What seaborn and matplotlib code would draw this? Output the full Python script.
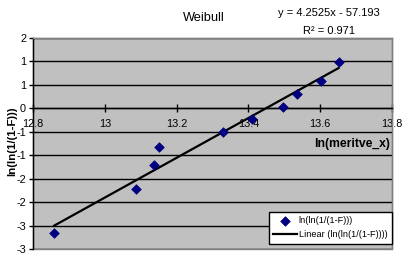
import matplotlib
matplotlib.use("Agg")
import matplotlib.pyplot as plt
import seaborn as sns
import numpy as np
import pandas as pd

# ---- data ----
ln_meritve_x = [12.859, 13.087, 13.137, 13.152, 13.329, 13.409, 13.495, 13.534, 13.601, 13.651]
lnln_F = [-2.66, -1.72, -1.20, -0.82, -0.51, -0.23, 0.03, 0.30, 0.59, 0.99]

y_ticks = [-3.0, -2.5, -2.0, -1.5, -1.0, -0.5, 0.0, 0.5, 1.0, 1.5]
y_tick_labels = ["-3", "-3", "-2", "-2", "-1", "-1", "0", "1", "1", "2"]
x_ticks = [12.8, 13.0, 13.2, 13.4, 13.6, 13.8]
x_tick_labels = ["12.8", "13", "13.2", "13.4", "13.6", "13.8"]

title = "Weibull"
eq_text = "y = 4.2525x - 57.193"
r2_text = "R² = 0.971"
x_label = "ln(meritve_x)"
y_label = "ln(ln(1/(1-F)))"
series_label = "ln(ln(1/(1-F)))"
trend_label = "Linear (ln(ln(1/(1-F))))"

df = pd.DataFrame({"x": ln_meritve_x, "y": lnln_F})

plt.rcParams["font.family"] = ["Liberation Sans", "DejaVu Sans"]

W, H = 406, 257
fig = plt.figure(figsize=(W / 100, H / 100), dpi=100)
fig.patch.set_facecolor("white")
ax = fig.add_axes([33 / W, 8 / H, 359 / W, 211 / H])
ax.set_facecolor("#C0C0C0")

ax.set_axisbelow(True)
ax.set_yticks(y_ticks)
ax.set_yticklabels(y_tick_labels)
ax.set_xticks(x_ticks)
ax.set_xticklabels(x_tick_labels)
ax.yaxis.grid(True, color="black", lw=1)
ax.xaxis.grid(False)

sns.regplot(data=df, x="x", y="y", scatter=False, ci=None, truncate=True,
            color="black", line_kws=dict(lw=1.6), label=trend_label, ax=ax)
sns.scatterplot(data=df, x="x", y="y", marker="D", color="#000080",
                edgecolor="#000080", s=24, linewidth=0.5, label=series_label,
                ax=ax, zorder=3)

ax.set_xlim(12.8, 13.8)
ax.set_ylim(-3.0, 1.5)

# spines
ax.spines["bottom"].set_position(("data", 0))
ax.spines["bottom"].set_color("black")
ax.spines["bottom"].set_linewidth(1)
ax.spines["left"].set_color("black")
ax.spines["left"].set_linewidth(1)
for s in ("top", "right"):
    ax.spines[s].set_color("#808080")
    ax.spines[s].set_linewidth(1)
ax.patch.set_edgecolor("#808080")
ax.patch.set_linewidth(1)

ax.tick_params(axis="y", direction="out", length=3, width=1, color="black",
               labelsize=7.8, pad=2)
ax.tick_params(axis="x", direction="inout", length=6, width=1, color="black",
               labelsize=7.8, pad=5)

ax.set_xlabel(x_label, fontsize=8.7, fontweight="bold")
ax.xaxis.set_label_coords(0.889, 0.525)
ax.set_ylabel(y_label, fontsize=8.2, fontweight="bold")
ax.yaxis.set_label_coords(-0.043, 0.51)

fig.text(204 / W, 1 - 18 / H, title, ha="center", va="center", fontsize=9.2)
fig.text(329 / W, 1 - 13 / H, eq_text, ha="center", va="center", fontsize=8)
fig.text(329 / W, 1 - 31 / H, r2_text, ha="center", va="center", fontsize=8)

handles, labels = ax.get_legend_handles_labels()
order = [labels.index(series_label), labels.index(trend_label)]
leg = ax.legend([handles[i] for i in order], [labels[i] for i in order],
                loc="lower right", bbox_to_anchor=(1.0, 0.024),
                fontsize=6.6, frameon=True, fancybox=False, framealpha=1,
                edgecolor="black", facecolor="white", borderpad=0.5,
                handlelength=2.6, handletextpad=0.2, labelspacing=0.55,
                borderaxespad=0)
leg.get_frame().set_linewidth(1)

fig.savefig("out.png", dpi=100)
